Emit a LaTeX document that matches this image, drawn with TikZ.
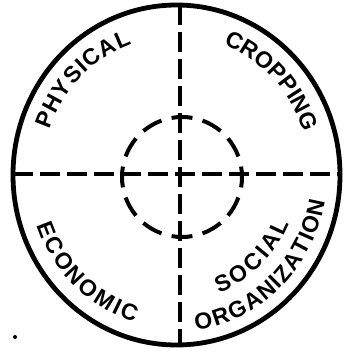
\documentclass[tikz,border=0pt]{standalone}
\usepackage{fontspec}
\newfontfamily\lab{Liberation Sans Bold}
\usetikzlibrary{decorations.text}
\begin{document}
\begin{tikzpicture}[x=1pt,y=1pt,
  outer/.style={line width=4.8pt},
  axisline/.style={line width=3.8pt, dash pattern=on 20pt off 7pt},
  innerdash/.style={line width=4pt},
  arctext/.style={decorate, decoration={text along path, text align=fit to path, text={|\lab\fontsize{23}{23}\selectfont|#1}}}
]
\useasboundingbox (0,0) rectangle (344,353);
\coordinate (C) at (176.5,178);
\coordinate (I) at (182,176);
\coordinate (vt) at (180,348);
\coordinate (vb) at (180,8);
\coordinate (hl) at (13,179);
\coordinate (hr) at (340,179);
% outer circle
\draw[outer] (C) ellipse[x radius=163.5pt, y radius=170pt];
% axes
\draw[axisline] (vt) -- (vb);
\draw[axisline] (hl) -- (hr);
% inner dashed circle
\foreach \a [evaluate=\a as \s using \a-10, evaluate=\a as \e using \a+10] in {0,30,...,330}
  \draw[innerdash] (I) ++(\s:60pt) arc[start angle=\s, end angle=\e, radius=60pt];
% labels
\path[arctext=PHYSICAL] (C) ++(161:134pt and 139pt) arc[start angle=161, end angle=109.5, x radius=134pt, y radius=139pt];
\path[arctext=CROPPING] (C) ++(69.5:134pt and 139pt) arc[start angle=69.5, end angle=18, x radius=134pt, y radius=139pt];
\path[arctext=ECONOMIC] (C) ++(199:147.7pt and 153.5pt) arc[start angle=199, end angle=253.5, x radius=147.7pt, y radius=153.5pt];
\path[arctext=ORGANIZATION] (C) ++(277.5:150.5pt and 156.5pt) arc[start angle=277.5, end angle=350.5, x radius=150.5pt, y radius=156.5pt];
\path[arctext=SOCIAL] (C) ++(290.5:121.7pt and 126.5pt) arc[start angle=290.5, end angle=337.5, x radius=121.7pt, y radius=126.5pt];
% dot
\fill (15,16) circle[radius=2pt];
\end{tikzpicture}
\end{document}
